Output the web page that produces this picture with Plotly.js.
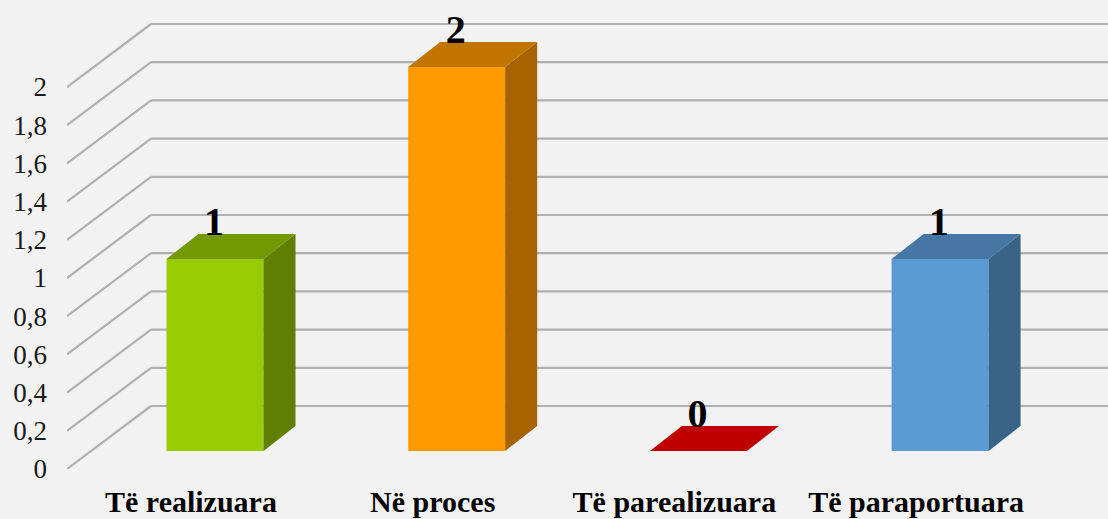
<!DOCTYPE html>
<html>
<head>
<meta charset="utf-8">
<script src="https://cdn.plot.ly/plotly-3.0.1.min.js"></script>
<style>html,body{margin:0;padding:0;background:#f2f2f2;overflow:hidden}#c{width:1108px;height:519px}</style>
</head>
<body>
<div id="c"></div>
<script>
var categories = ["Të realizuara", "Në proces", "Të parealizuara", "Të paraportuara"];
var values = [1, 2, 0, 1];
var valueLabels = ["1", "2", "0", "1"];
var yTickVals = [0, 0.2, 0.4, 0.6, 0.8, 1, 1.2, 1.4, 1.6, 1.8, 2];
var yTickLabels = ["0", "0,2", "0,4", "0,6", "0,8", "1", "1,2", "1,4", "1,6", "1,8", "2"];
var frontColors = ["#99cc00", "#ff9900", "#c00000", "#5b9bd5"];
var sideColors = ["#5f7f00", "#a66300", "#780000", "#3a6388"];
var topColors = ["#739900", "#c07500", "#c00000", "#4676a4"];

// Oblique projection, in axis units
var pxX = 241.7, pxY = 191;
var wallDX = 84 / pxX, wallDY = 63 / pxY;
var barDX = 24 / pxX, barDY = 18 / pxY;
var depthDX = 32 / pxX, depthDY = 25 / pxY;
var barW = 97 / pxX, heightScale = 192 / 191;
var labelDX = -1 / pxX, labelDY = 34 / pxY;

var positions = categories.map(function (c, i) { return i; });
var tops = values.map(function (v) { return v * heightScale; });

var shapes = [];
yTickVals.forEach(function (v) {
  var line = { color: "#b0b0b0", width: 2.2 };
  shapes.push({ type: "line", layer: "below", xref: "x", yref: "y", x0: -0.513, y0: v, x1: -0.513 + wallDX, y1: v + wallDY, line: line });
  shapes.push({ type: "line", layer: "below", xref: "x", yref: "y", x0: -0.513 + wallDX, y0: v + wallDY, x1: 4.2, y1: v + wallDY, line: line });
});

var traces = [];
traces.push({
  type: "bar",
  x: positions.map(function (p) { return p + barDX; }),
  y: tops,
  base: positions.map(function () { return barDY; }),
  width: barW,
  marker: { color: frontColors, line: { width: 0 } },
  hoverinfo: "skip",
  showlegend: false
});
positions.forEach(function (p, i) {
  var xl = p + barDX - barW / 2, xr = p + barDX + barW / 2;
  var b = barDY, t = barDY + tops[i];
  if (values[i] > 0) {
    traces.push({
      type: "scatter", mode: "lines", fill: "toself", fillcolor: sideColors[i],
      x: [xr, xr + depthDX, xr + depthDX, xr, xr],
      y: [b, b + depthDY, t + depthDY, t, b],
      line: { width: 0, color: sideColors[i] }, hoverinfo: "skip", showlegend: false
    });
  }
  traces.push({
    type: "scatter", mode: "lines", fill: "toself", fillcolor: topColors[i],
    x: [xl, xr, xr + depthDX, xl + depthDX, xl],
    y: [t, t, t + depthDY, t + depthDY, t],
    line: { width: 0, color: topColors[i] }, hoverinfo: "skip", showlegend: false
  });
});
traces.push({
  type: "scatter", mode: "text",
  x: positions.map(function (p) { return p + barDX + labelDX; }),
  y: tops.map(function (t) { return barDY + t + labelDY; }),
  text: valueLabels,
  textposition: "middle center",
  textfont: { family: "Liberation Serif", size: 40, color: "#000000", weight: 700 },
  hoverinfo: "skip", showlegend: false, cliponaxis: false
});

var layout = {
  width: 1108, height: 519,
  margin: { l: 67, r: 0, t: 0, b: 50, pad: 0 },
  paper_bgcolor: "#f2f2f2", plot_bgcolor: "#f2f2f2",
  showlegend: false,
  shapes: shapes,
  xaxis: {
    range: [-0.513, 3.794], fixedrange: true, showgrid: false, zeroline: false, showline: false,
    tickmode: "array", tickvals: positions, ticktext: categories, ticks: "", ticklabelstandoff: 12,
    tickangle: 0,
    tickfont: { family: "Liberation Serif", size: 30, color: "#000000", weight: 700 }
  },
  yaxis: {
    range: [0, 469 / pxY], fixedrange: true, showgrid: false, zeroline: false, showline: false,
    tickmode: "array", tickvals: yTickVals, ticktext: yTickLabels, ticks: "", ticklabelstandoff: 19,
    tickfont: { family: "Liberation Serif", size: 27, color: "#1a1a1a" }
  }
};
Plotly.newPlot("c", traces, layout, { displayModeBar: false, staticPlot: true });
</script>
</body>
</html>
